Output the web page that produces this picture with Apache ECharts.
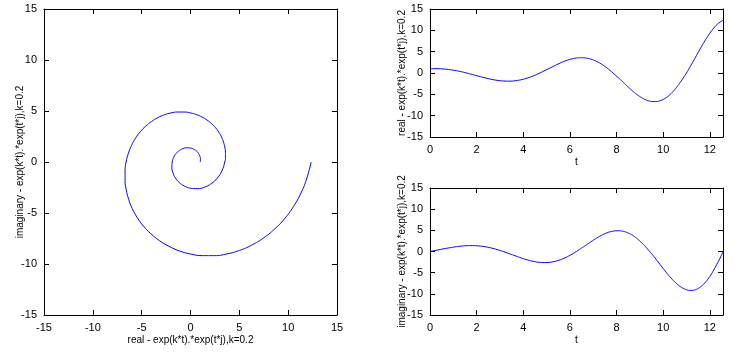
<!DOCTYPE html>
<html>
<head>
<meta charset="utf-8">
<script src="https://cdn.jsdelivr.net/npm/echarts@6/dist/echarts.min.js"></script>
<style>
  html, body { margin: 0; padding: 0; background: #fff; }
  #chart { width: 734px; height: 352px; }
</style>
</head>
<body>
<div id="chart"></div>
<script>
// z = exp(k*t).*exp(t*j), k = 0.2, t = 0 .. 4*pi
const tValues = [0, 0.26, 0.52, 0.79, 1.05, 1.31, 1.57, 1.83, 2.09, 2.36, 2.62, 2.88, 3.14,
  3.40, 3.67, 3.93, 4.19, 4.45, 4.71, 4.97, 5.24, 5.50, 5.76, 6.02, 6.28,
  6.41, 6.54, 6.68, 6.81, 6.94, 7.07, 7.20, 7.33, 7.46, 7.59, 7.72, 7.85,
  7.98, 8.12, 8.25, 8.38, 8.51, 8.64, 8.77, 8.90, 9.03, 9.16, 9.29, 9.42,
  9.56, 9.69, 9.82, 9.95, 10.08, 10.21, 10.34, 10.47, 10.60, 10.73, 10.86, 11.00,
  11.13, 11.26, 11.39, 11.52, 11.65, 11.78, 11.91, 12.04, 12.17, 12.30, 12.44, 12.57]
const realValues = [1.00, 1.02, 0.96, 0.83, 0.62, 0.34, 0.00, -0.37, -0.76, -1.13, -1.46, -1.72, -1.87,
  -1.91, -1.80, -1.55, -1.16, -0.63, 0.00, 0.70, 1.42, 2.12, 2.74, 3.22, 3.51,
  3.58, 3.58, 3.51, 3.38, 3.18, 2.91, 2.57, 2.17, 1.70, 1.18, 0.61, 0.00,
  -0.64, -1.31, -1.99, -2.67, -3.34, -3.98, -4.58, -5.14, -5.63, -6.04, -6.36, -6.59,
  -6.70, -6.70, -6.58, -6.33, -5.96, -5.45, -4.82, -4.06, -3.19, -2.21, -1.15, 0.00,
  1.21, 2.46, 3.73, 5.01, 6.26, 7.46, 8.59, 9.63, 10.54, 11.32, 11.92, 12.35]
const imagValues = [0.00, 0.27, 0.56, 0.83, 1.07, 1.25, 1.37, 1.39, 1.32, 1.13, 0.84, 0.46, 0.00,
  -0.51, -1.04, -1.55, -2.00, -2.35, -2.57, -2.61, -2.47, -2.12, -1.58, -0.86, 0.00,
  0.47, 0.96, 1.45, 1.95, 2.44, 2.91, 3.35, 3.75, 4.11, 4.41, 4.65, 4.81,
  4.90, 4.90, 4.81, 4.63, 4.35, 3.98, 3.52, 2.97, 2.33, 1.62, 0.84, 0.00,
  -0.88, -1.80, -2.73, -3.66, -4.57, -5.45, -6.28, -7.03, -7.70, -8.26, -8.71, -9.02,
  -9.18, -9.18, -9.01, -8.67, -8.15, -7.46, -6.59, -5.56, -4.37, -3.03, -1.57, 0.00]

const realName = 'real - exp(k*t).*exp(t*j),k=0.2'
const imagName = 'imaginary - exp(k*t).*exp(t*j),k=0.2'
const tMax = 12.566

const font = 'Liberation Sans, Arial, sans-serif'

function valueAxis(grid, pos, opts) {
  const main = pos === 'bottom' || pos === 'left'
  return {
    type: 'value',
    gridIndex: grid,
    position: pos,
    min: opts.min,
    max: opts.max,
    interval: opts.interval,
    name: main ? opts.name : '',
    nameLocation: 'middle',
    nameGap: opts.nameGap,
    nameMoveOverlap: false,
    nameTextStyle: { color: '#000', fontSize: 10, fontFamily: font },
    axisLine: { show: true, onZero: false, lineStyle: { color: '#000', width: 1 } },
    axisTick: { show: true, inside: true, length: 5, lineStyle: { color: '#000', width: 1 } },
    axisLabel: {
      show: main,
      color: '#000',
      fontSize: 11,
      fontFamily: font,
      margin: 7,
      showMaxLabel: opts.max !== tMax,
      formatter: v => (Number.isInteger(v) ? String(v) : '')
    },
    splitLine: { show: false }
  }
}

const spiral = realValues.map((re, i) => [re, imagValues[i]])
const realT = tValues.map((t, i) => [t, realValues[i]])
const imagT = tValues.map((t, i) => [t, imagValues[i]])

const chart = echarts.init(document.getElementById('chart'))
chart.setOption({
  backgroundColor: '#fff',
  animation: false,
  grid: [
    { left: 44, top: 9, width: 293, height: 306 },
    { left: 430, top: 9, width: 293, height: 128 },
    { left: 430, top: 188, width: 293, height: 127 }
  ],
  xAxis: [
    valueAxis(0, 'bottom', { min: -15, max: 15, interval: 5, name: realName, nameGap: 20 }),
    valueAxis(0, 'top', { min: -15, max: 15, interval: 5 }),
    valueAxis(1, 'bottom', { min: 0, max: tMax, interval: 2, name: 't', nameGap: 20 }),
    valueAxis(1, 'top', { min: 0, max: tMax, interval: 2 }),
    valueAxis(2, 'bottom', { min: 0, max: tMax, interval: 2, name: 't', nameGap: 20 }),
    valueAxis(2, 'top', { min: 0, max: tMax, interval: 2 })
  ],
  yAxis: [
    valueAxis(0, 'left', { min: -15, max: 15, interval: 5, name: imagName, nameGap: 19 }),
    valueAxis(0, 'right', { min: -15, max: 15, interval: 5 }),
    valueAxis(1, 'left', { min: -15, max: 15, interval: 5, name: realName, nameGap: 23 }),
    valueAxis(1, 'right', { min: -15, max: 15, interval: 5 }),
    valueAxis(2, 'left', { min: -15, max: 15, interval: 5, name: imagName, nameGap: 23 }),
    valueAxis(2, 'right', { min: -15, max: 15, interval: 5 })
  ],
  series: [
    { type: 'line', xAxisIndex: 0, yAxisIndex: 0, data: spiral },
    { type: 'line', xAxisIndex: 2, yAxisIndex: 2, data: realT },
    { type: 'line', xAxisIndex: 4, yAxisIndex: 4, data: imagT }
  ].map(s => ({
    ...s,
    showSymbol: false,
    smooth: 0.5,
    lineStyle: { color: '#0000ff', width: 1 },
    silent: true
  }))
})
</script>
</body>
</html>
